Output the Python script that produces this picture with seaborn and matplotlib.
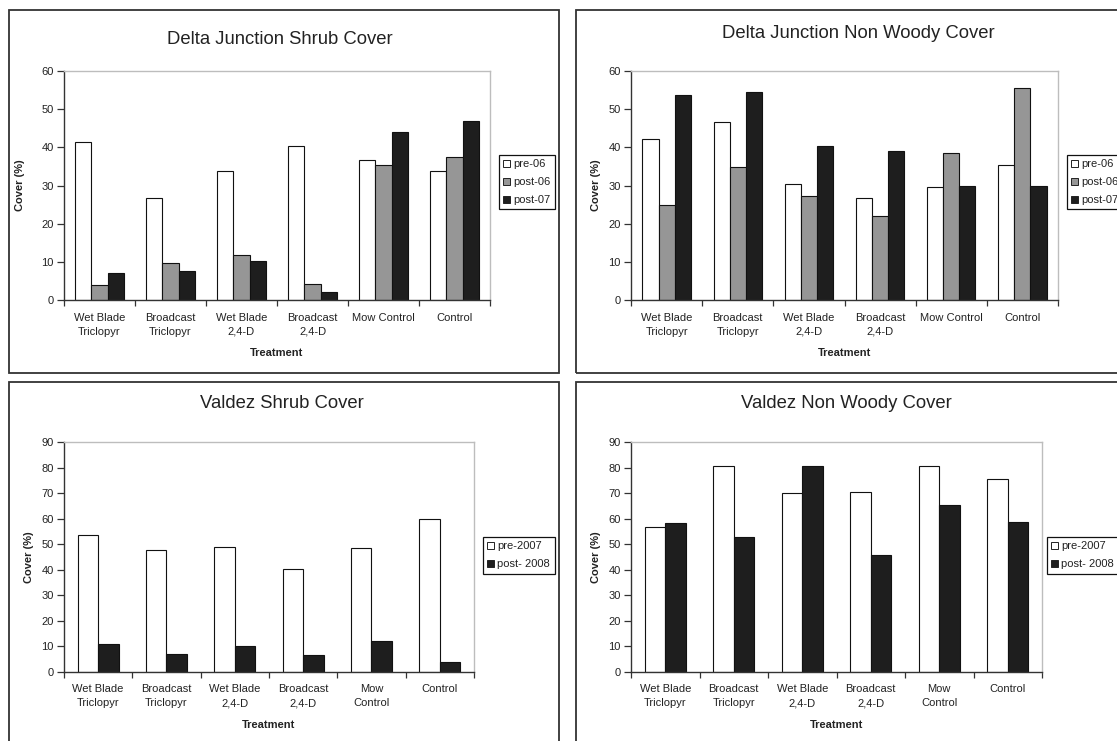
import numpy as np
import pandas as pd
import matplotlib
matplotlib.use("Agg")
import matplotlib.pyplot as plt
from matplotlib.patches import Rectangle, Patch
import seaborn as sns

# ---------------- data ----------------
cats_top = ["Wet Blade\nTriclopyr", "Broadcast\nTriclopyr", "Wet Blade\n2,4-D",
            "Broadcast\n2,4-D", "Mow Control", "Control"]
cats_bot = ["Wet Blade\nTriclopyr", "Broadcast\nTriclopyr", "Wet Blade\n2,4-D",
            "Broadcast\n2,4-D", "Mow\nControl", "Control"]

periods_top = ["pre-06", "post-06", "post-07"]
periods_bot = ["pre-2007", "post- 2008"]

dj_shrub_pre06 = [41.4, 26.6, 33.9, 40.3, 36.6, 33.8]
dj_shrub_post06 = [3.9, 9.6, 11.9, 4.1, 35.5, 37.5]
dj_shrub_post07 = [7.2, 7.7, 10.3, 2.0, 43.9, 46.9]

dj_nw_pre06 = [42.1, 46.6, 30.3, 26.8, 29.6, 35.3]
dj_nw_post06 = [24.8, 34.9, 27.3, 22.0, 38.5, 55.5]
dj_nw_post07 = [53.7, 54.4, 40.3, 39.1, 29.9, 29.9]

v_shrub_pre2007 = [53.8, 47.8, 48.9, 40.4, 48.5, 59.8]
v_shrub_post2008 = [10.8, 6.9, 10.0, 6.5, 12.3, 4.0]

v_nw_pre2007 = [56.7, 80.6, 70.0, 70.4, 80.8, 75.6]
v_nw_post2008 = [58.4, 52.9, 80.7, 45.9, 65.2, 58.8]

titles = ["Delta Junction Shrub Cover", "Delta Junction Non Woody Cover",
          "Valdez Shrub Cover", "Valdez Non Woody Cover"]

# ---------------- style ----------------
sns.set_theme(style="white")
plt.rcParams["font.family"] = ["Liberation Sans", "DejaVu Sans"]

W, H = 1117, 741
fig = plt.figure(figsize=(W / 100, H / 100), dpi=100)
fig.patch.set_facecolor("white")

FS = 8.0
TFS = 13.3


def px_axes(l, r, t, b):
    return fig.add_axes([l / W, 1 - b / H, (r - l) / W, (b - t) / H])


def frame(l, r, t, b):
    fig.add_artist(Rectangle((l / W, 1 - b / H), (r - l) / W, (b - t) / H,
                             transform=fig.transFigure, fill=False,
                             edgecolor="#333333", linewidth=1.3, zorder=0))


frame(9, 559, 10, 373)
frame(576, 1300, 10, 373)
frame(9, 559, 382, 900)
frame(576, 1300, 382, 900)

col3 = ["#ffffff", "#969696", "#1e1e1e"]
col2 = ["#ffffff", "#1e1e1e"]


def make_df(cats, periods, series):
    rows = []
    for p, vals in zip(periods, series):
        for c, v in zip(cats, vals):
            rows.append({"Treatment": c, "Cover": v, "Period": p})
    return pd.DataFrame(rows)


panels = [
    dict(box=(64, 490, 71, 300), cats=cats_top, periods=periods_top,
         series=[dj_shrub_pre06, dj_shrub_post06, dj_shrub_post07], colors=col3,
         ymax=60, width=0.68, title_xy=(280, 39), ylab_x=20, leg=(499, 155)),
    dict(box=(631, 1058, 71, 300), cats=cats_top, periods=periods_top,
         series=[dj_nw_pre06, dj_nw_post06, dj_nw_post07], colors=col3,
         ymax=60, width=0.68, title_xy=(858, 33), ylab_x=596, leg=(1067, 155)),
    dict(box=(64, 474, 442, 672), cats=cats_bot, periods=periods_bot,
         series=[v_shrub_pre2007, v_shrub_post2008], colors=col2,
         ymax=90, width=0.6, title_xy=(282, 403), ylab_x=29, leg=(483, 537)),
    dict(box=(631, 1042, 442, 672), cats=cats_bot, periods=periods_bot,
         series=[v_nw_pre2007, v_nw_post2008], colors=col2,
         ymax=90, width=0.6, title_xy=(846, 403), ylab_x=596, leg=(1047, 537)),
]

for i, p in enumerate(panels):
    l, r, t, b = p["box"]
    ax = px_axes(l, r, t, b)
    df = make_df(p["cats"], p["periods"], p["series"])
    sns.barplot(data=df, x="Treatment", y="Cover", hue="Period",
                order=p["cats"], hue_order=p["periods"],
                palette=p["colors"], saturation=1, width=p["width"],
                edgecolor="#111111", linewidth=0.8, ax=ax, legend=False)
    ax.set_facecolor("white")
    ax.set_xlim(-0.5, 5.5)
    ax.set_ylim(0, p["ymax"])
    ax.set_yticks(np.arange(0, p["ymax"] + 1, 10))
    ax.set_xticks(range(6))
    ax.set_xticklabels(p["cats"], fontsize=FS, linespacing=1.5,
                       color="#222222", ha="center", multialignment="center")
    ax.set_xticks(np.arange(-0.5, 6, 1), minor=True)
    ax.tick_params(axis="x", which="major", length=0, pad=9.0)
    ax.tick_params(axis="x", which="minor", length=4, width=0.9,
                   direction="out", color="#333333", bottom=True)
    ax.tick_params(axis="y", which="major", length=5, width=0.9,
                   direction="out", color="#333333", left=True,
                   labelsize=FS, labelcolor="#222222", pad=2.5)
    for s in ["left", "bottom"]:
        ax.spines[s].set_color("#333333")
        ax.spines[s].set_linewidth(1.0)
    for s in ["top", "right"]:
        ax.spines[s].set_color("#bdbdbd")
        ax.spines[s].set_linewidth(1.0)
    ax.grid(False)

    ax.set_xlabel("Treatment", fontsize=FS, fontweight="bold", color="#222222")
    ax.xaxis.set_label_coords(0.5, -(53) / (b - t), transform=ax.transAxes)
    ax.xaxis.label.set_va("center")
    ax.set_ylabel("Cover (%)", fontsize=FS, fontweight="bold", color="#222222")
    ax.yaxis.set_label_coords((p["ylab_x"] - l) / (r - l), 0.5)
    ax.yaxis.label.set_va("center")

    tx, ty = p["title_xy"]
    fig.text(tx / W, 1 - ty / H, titles[i], fontsize=TFS, ha="center",
             va="center", color="#222222")

    handles = [Patch(facecolor=c, edgecolor="#222222", linewidth=0.7)
               for c in p["colors"]]
    lx, ly = p["leg"]
    leg = fig.legend(handles, p["periods"], loc="upper left",
                     bbox_to_anchor=(lx / W, 1 - ly / H),
                     bbox_transform=fig.transFigure, fontsize=FS,
                     frameon=True, fancybox=False, framealpha=1,
                     edgecolor="#111111", borderpad=0.4, labelspacing=0.7,
                     handlelength=0.6, handleheight=0.6, handletextpad=0.3,
                     borderaxespad=0)
    leg.get_frame().set_linewidth(0.9)
    for txt in leg.get_texts():
        txt.set_color("#222222")

fig.savefig("out.png", dpi=100, facecolor="white")
